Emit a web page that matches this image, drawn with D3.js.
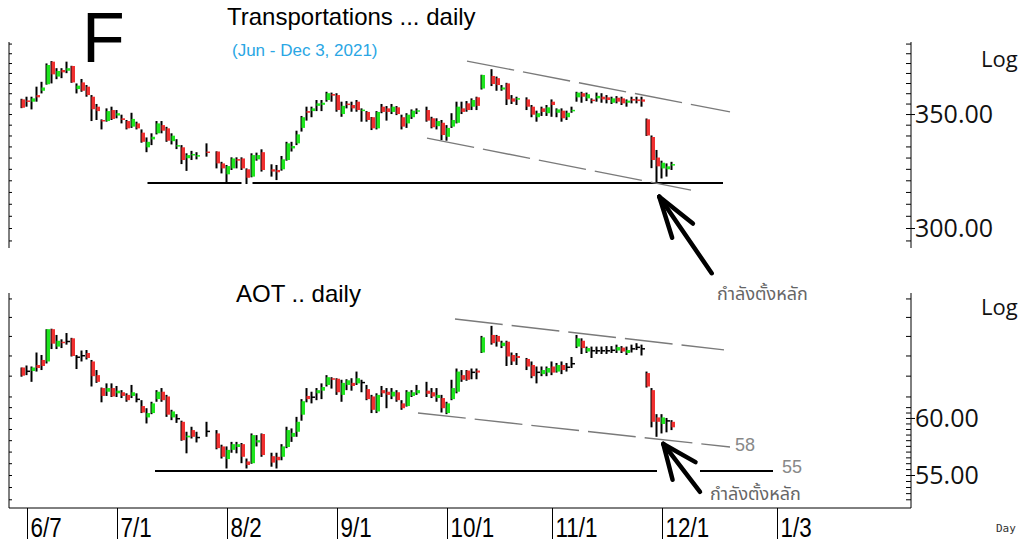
<!DOCTYPE html>
<html><head><meta charset="utf-8">
<script src="https://cdn.jsdelivr.net/npm/d3@7"></script>
<style>body{margin:0;background:#fff}svg{display:block}</style>
</head><body>
<svg id="chart" width="1024" height="542"></svg>
<script>
// ---------------- DATA ----------------
const startDate = "2021-06-04"; // first weekday slot; one entry per weekday, null = market holiday
// [open, high, low, close]
const transCandles = [
[357.0,357.3,352.8,353.0],[356.5,358.3,353.5,356.0],[355.9,358.3,352.2,357.5],[359.1,363.2,355.9,358.0],[361.2,365.6,359.9,362.8],
[364.4,374.8,364.2,374.0],[375.7,376.0,364.8,369.3],[368.2,372.4,366.9,371.0],[371.5,372.4,367.4,370.3],[371.1,375.7,369.9,372.4],
[373.5,373.6,365.1,365.3],[362.0,364.8,359.9,363.7],[365.3,367.0,360.7,361.2],[363.2,364.0,358.3,359.1],[358.3,359.1,346.7,352.3],
[353.5,354.8,347.2,351.4],[347.2,347.5,342.8,346.7],[346.7,352.7,346.4,351.4],[351.9,353.5,347.2,347.7],[349.3,351.9,348.0,350.4],
[348.0,349.7,345.6,347.2],[346.7,347.2,342.8,343.3],[344.1,350.6,343.5,347.7],[345.6,346.4,342.8,343.3],[341.3,342.8,336.7,337.1],
[334.6,339.1,332.4,337.1],[338.2,341.0,335.6,339.4],[341.0,346.7,340.5,345.6],[344.8,346.7,341.0,342.2],[343.3,344.0,337.1,337.6],
[337.4,341.0,335.9,339.9],[335.0,338.3,333.8,335.6],[334.6,335.6,327.1,328.9],[329.7,331.9,324.1,331.1],[331.1,333.0,328.9,331.6],
[330.4,332.4,329.2,331.1],null,[332.7,336.4,330.4,332.2],null,[332.7,332.8,325.2,327.4],
[327.4,328.1,323.0,325.2],[322.6,326.7,318.7,326.2],[325.2,330.1,324.5,329.6],[329.3,330.1,325.2,328.6],[329.6,330.1,324.5,325.2],
[324.8,325.2,318.4,321.1],[321.6,331.9,321.3,331.1],[329.2,332.2,328.6,331.1],[332.4,333.7,323.8,324.5],null,
[324.8,327.0,321.6,323.8],[324.5,326.7,320.1,323.5],[324.8,330.7,324.2,329.2],[328.9,337.1,328.6,336.4],[334.1,337.1,332.7,335.2],
[336.4,342.2,335.6,340.5],[343.5,349.1,341.8,348.5],[351.4,353.5,346.9,350.6],[351.4,353.5,348.5,352.7],[353.9,356.7,351.4,355.1],
[354.4,356.7,351.4,355.4],[356.7,360.7,355.9,360.0],[359.6,360.3,355.9,358.8],[359.1,360.0,351.1,351.9],[350.0,355.9,348.7,353.9],
[355.0,356.2,352.7,354.4],[354.3,355.9,351.1,352.7],[355.9,356.7,351.1,351.9],[351.4,352.7,346.4,352.1],[351.0,351.4,346.4,347.2],
[348.5,348.6,342.5,343.3],[343.3,351.4,342.8,351.0],[353.5,354.8,350.4,351.0],[352.7,353.8,346.9,351.0],[351.0,354.8,350.0,353.5],
[353.2,353.8,349.5,350.0],[348.5,349.7,342.8,344.1],[345.6,350.4,343.5,349.7],[348.5,352.2,347.7,351.6],[351.4,352.7,350.0,351.8],
null,[351.9,353.5,346.4,346.9],[348.0,348.7,343.3,343.8],[344.3,348.0,342.8,346.7],[345.9,347.2,337.9,340.2],
[339.4,344.8,337.6,343.5],[344.1,350.4,343.5,347.2],[345.9,355.9,345.6,353.5],[352.7,355.9,350.0,351.0],[355.1,356.2,351.1,351.9],
[353.5,357.5,351.9,356.7],[358.0,358.3,351.9,353.9],[362.3,369.1,361.8,369.0],null,[368.5,371.9,363.5,364.5],
[367.4,368.2,361.2,364.0],[361.8,364.0,361.2,362.8],[364.8,365.1,354.3,357.0],[357.5,359.1,354.8,355.9],[357.3,358.3,354.3,357.6],
null,[357.0,358.0,351.9,353.5],[353.5,354.3,348.5,349.7],[348.5,351.6,346.4,350.4],[352.7,353.5,349.1,351.0],
[350.4,354.3,349.1,353.2],[355.9,357.0,348.7,354.3],[350.6,352.7,348.5,352.2],[351.6,352.7,346.4,348.0],[348.5,351.6,347.2,350.6],
[351.6,353.5,350.6,352.0],[358.0,360.7,355.9,360.3],[360.0,360.7,355.4,358.3],[357.5,360.3,356.2,359.5],[356.9,357.5,355.1,356.6],
[357.5,360.3,355.9,358.7],[358.3,360.0,355.4,357.0],[358.0,359.1,355.1,356.7],[355.4,358.3,354.8,357.5],[357.8,358.6,355.1,355.9],
[357.5,358.3,354.3,355.1],[355.4,357.0,353.5,356.4],[357.2,358.3,355.1,356.4],[357.0,358.3,355.1,356.2],[357.0,358.3,353.5,355.9],
[347.5,347.9,339.8,340.0],[339.3,340.0,325.3,328.9],[330.0,333.4,319.2,326.1],[325.2,328.6,320.8,327.7],[324.8,327.4,321.6,326.1],
[326.5,328.1,324.5,327.1]
];
const aotCandles = [
[64.8,64.8,63.9,64.0],[64.5,65.0,64.05,64.5],[64.45,64.9,63.4,64.8],[65.05,66.3,64.4,64.75],[65.55,66.05,64.55,64.95],
[65.4,68.7,65.2,68.7],[68.7,68.75,66.65,67.2],[66.9,68.1,66.65,67.5],[67.4,67.65,66.75,67.25],[67.5,68.3,67.1,67.5],
[67.75,67.8,65.9,65.95],[65.9,66.05,64.65,65.9],[66.05,66.5,65.4,66.05],[66.25,66.55,65.6,65.75],[65.4,65.55,62.95,63.95],
[64.05,64.55,63.3,63.4],[62.8,62.85,61.45,62.05],[62.45,63.25,62.05,62.8],[62.8,63.25,61.95,62.0],[62.3,63.0,61.95,62.55],
[62.4,62.6,61.85,62.05],[62.15,62.3,61.5,61.65],[62.05,63.1,61.85,62.4],[61.8,62.3,61.45,61.8],[61.1,61.65,60.45,60.5],
[60.05,60.9,59.5,60.45],[60.45,61.5,60.35,61.35],[61.75,62.6,61.5,62.45],[62.45,62.8,61.5,61.65],[62.0,62.15,60.1,60.3],
[60.05,60.75,59.8,60.6],[60.0,60.35,59.55,60.0],[59.65,59.75,57.95,58.0],[58.25,58.75,56.85,58.4],[58.9,59.2,58.15,58.3],
[58.3,58.75,57.8,58.3],null,[58.85,59.65,58.3,58.85],null,[58.6,58.9,57.2,57.3],
[57.45,57.6,56.4,56.55],[56.35,57.45,55.55,57.15],[57.15,57.85,56.9,57.65],[57.4,57.85,56.85,57.65],[57.65,57.75,56.0,56.55],
[56.15,56.4,55.55,55.85],[56.0,58.6,55.95,58.45],[57.8,58.45,57.45,58.0],[58.55,58.6,56.55,56.7],null,
[56.6,56.9,55.7,56.05],[56.55,56.9,55.55,56.25],[56.55,57.65,56.25,57.45],[57.4,59.2,57.3,58.9],[58.3,59.05,57.85,58.65],
[58.75,60.1,58.3,59.65],[60.3,61.75,59.75,61.55],[62.05,62.8,61.45,61.75],[62.0,62.45,61.35,62.0],[62.3,62.8,61.65,62.6],
[62.55,63.25,61.75,62.9],[63.1,64.05,62.95,63.85],[63.75,63.85,62.75,63.6],[63.7,63.75,62.15,62.4],[62.15,63.6,61.5,63.3],
[63.1,63.65,62.6,63.55],[63.3,63.75,62.55,63.0],[63.25,64.4,63.1,63.75],[63.4,63.6,62.4,63.4],[62.7,63.1,61.65,61.75],
[62.0,62.15,60.45,60.75],[60.6,62.3,60.45,62.15],[62.6,63.0,61.95,62.3],[62.45,62.8,60.9,62.15],[62.0,62.8,61.75,62.45],
[62.4,62.6,61.5,61.65],[61.35,61.65,60.75,60.9],[61.1,62.6,61.05,62.45],[62.05,62.6,61.95,62.4],[62.3,63.1,62.15,62.6],
null,[62.55,63.4,61.95,62.25],[62.4,62.8,61.85,62.0],[61.85,62.8,61.5,62.15],[61.85,62.15,60.5,60.9],
[60.45,61.5,60.35,61.35],[61.75,63.6,61.65,62.8],[62.45,64.7,62.3,64.4],[64.05,64.55,63.4,63.6],[64.5,64.55,63.5,63.6],
[64.4,64.7,63.65,64.4],[64.5,64.7,63.65,64.3],[66.3,68.0,66.25,67.85],null,[68.1,69.05,67.1,67.25],
[68.0,68.1,66.9,67.4],[66.95,67.5,66.75,67.3],[67.4,67.5,64.95,65.9],[66.05,66.3,65.05,65.4],[65.95,66.25,65.05,65.75],
null,[65.65,65.75,64.55,64.9],[65.05,65.4,63.75,63.95],[64.4,64.9,63.25,64.4],[64.15,64.9,63.95,64.55],
[64.3,64.9,63.95,64.75],[64.9,65.4,64.05,64.3],[64.4,65.25,64.3,65.05],[65.05,65.4,64.15,64.55],[64.9,65.25,64.4,64.9],
[65.25,65.85,64.75,65.25],[66.9,68.1,66.75,67.75],[67.5,67.75,66.15,66.75],[66.4,66.9,66.25,66.75],[66.55,66.9,65.75,66.55],
[66.55,66.9,66.15,66.55],[66.55,66.9,66.15,66.55],[66.55,66.95,66.15,66.55],[66.6,66.95,66.25,66.6],[66.5,67.1,66.25,66.85],
[66.8,66.95,66.25,66.4],[66.25,66.9,66.05,66.55],[66.75,67.1,66.3,66.75],[66.9,67.25,66.55,66.9],[66.75,67.1,66.0,66.75],
[64.25,64.4,62.85,62.95],[62.6,62.8,59.15,59.65],[60.05,60.35,58.3,59.65],[59.45,60.35,58.6,60.05],[59.8,60.0,58.7,59.8],
[59.65,59.8,58.9,59.15]
];
const dateTicks = ["2021-06-07","2021-07-01","2021-08-02","2021-09-01","2021-10-01","2021-11-01","2021-12-01","2022-01-03"];
const dateTickLabels = ["6/7","7/1","8/2","9/1","10/1","11/1","12/1","1/3"];
const transLabelTicks = [300, 350];
const transMinorTicks = d3.range(295, 386, 5);
const aotLabelTicks = [55, 60];
const aotMinorTicks = [53,54,55,56,57,58,59,60,61,62,64,66,68,70,72];
const aotHalfTicks = [53.5,54.5,55.5,56.5,57.5,58.5,59.5,60.5];
// hand-drawn annotations, in [weekday index, value]
const transSupport = {value: 318.8, spans: [[25.1, 43.9], [46.1, 140.2]]};
const transChannels = [[[89, 376.0], [141.6, 351.0]], [[81, 338.8], [133.8, 315.8]]];
const transArrow = {tip: [127.46, 312.97], tail: [137.94, 282.2]};
const aotSupport = {value: 55.34, spans: [[26.6, 127.0], [135.6, 150.2]]};
const aotChannels = [[[86.6, 69.78], [140.4, 66.57]], [[79.2, 60.46], [141.6, 57.40]]];
const aotArrow = {tip: [128.26, 57.67], tail: [135.6, 53.61]};
const noteText = "กำลังตั้งหลัก";

// ---------------- CHART ----------------
const svg = d3.select("#chart");
const parse = d3.utcParse("%Y-%m-%d");
const t0 = parse(startDate);
const wdIndex = s => d3.utcDay.range(t0, parse(s)).filter(d => d.getUTCDay() % 6 !== 0).length;

const x = d3.scaleLinear().domain([0, 130]).range([22, 672]);
const yTop = d3.scaleLog().domain([292.0, 385.3]).range([248, 43]);
const yBot = d3.scaleLog().domain([52.3, 72.6]).range([508, 293]);

const RED = "#f03030", GREEN = "#1fe61f";
const sans = "'Liberation Sans',Arial,sans-serif";
const numFont = "'Open Sans','Noto Sans',sans-serif";
const thaiFont = "'Noto Sans Thai','Noto Sans Thai UI','Loma','Garuda','Tahoma','Noto Sans',sans-serif";

function drawAnnotations(g, y, support, channels) {
  support.spans.forEach(s => {
    g.append("line").attr("x1", x(s[0])).attr("x2", x(s[1]))
      .attr("y1", y(support.value)).attr("y2", y(support.value))
      .attr("stroke", "#000").attr("stroke-width", 2);
  });
  channels.forEach(c => {
    g.append("line").attr("x1", x(c[0][0])).attr("y1", y(c[0][1]))
      .attr("x2", x(c[1][0])).attr("y2", y(c[1][1]))
      .attr("stroke", "#7a7a7a").attr("stroke-width", 1.4)
      .attr("stroke-dasharray", "48,9");
  });
}

function drawArrow(g, y, arrow, ang, len) {
  const tx = x(arrow.tip[0]), ty = y(arrow.tip[1]);
  const px = x(arrow.tail[0]), py = y(arrow.tail[1]);
  const a = Math.atan2(py - ty, px - tx);
  g.append("line").attr("x1", px).attr("y1", py).attr("x2", tx).attr("y2", ty)
    .attr("stroke", "#000").attr("stroke-width", 4.5).attr("stroke-linecap", "round");
  [ang, -ang].forEach(d => {
    const b = a + d * Math.PI / 180;
    g.append("line").attr("x1", tx).attr("y1", ty)
      .attr("x2", tx + len * Math.cos(b)).attr("y2", ty + len * Math.sin(b))
      .attr("stroke", "#000").attr("stroke-width", 4.5).attr("stroke-linecap", "round");
  });
}

function drawCandles(g, data, y) {
  const items = data.map((d, i) => d ? {i, o: d[0], h: d[1], l: d[2], c: d[3]} : null).filter(Boolean);
  g.selectAll("rect.wick").data(items).join("rect").attr("class", "wick")
    .attr("x", d => x(d.i) - 1.5).attr("width", 2)
    .attr("y", d => y(d.h)).attr("height", d => Math.max(1, y(d.l) - y(d.h)))
    .attr("fill", "#000");
  g.selectAll("rect.body").data(items).join("rect").attr("class", "body")
    .attr("x", d => x(d.i) - 0.5).attr("width", 3.5)
    .attr("y", d => Math.min(y(d.o), y(d.c)))
    .attr("height", d => Math.max(1.5, Math.abs(y(d.o) - y(d.c))))
    .attr("fill", d => d.c > d.o ? GREEN : d.c < d.o ? RED : "#000");
}

function drawAxes(y, minor, labels, top, bottom, half) {
  const left = svg.append("g").attr("transform", "translate(9,0)")
    .call(d3.axisRight(y).tickValues(minor).tickSize(3).tickSizeOuter(0).tickFormat(""));
  const right = svg.append("g").attr("transform", "translate(911,0)")
    .call(d3.axisLeft(y).tickValues(minor.concat(half || [])).tickSize(5).tickSizeOuter(0).tickFormat(""));
  const lab = svg.append("g").attr("transform", "translate(911,0)")
    .call(d3.axisRight(y).tickValues(labels).tickSize(4).tickPadding(0).tickSizeOuter(0).tickFormat(d3.format(".2f")));
  lab.select(".domain").remove();
  lab.selectAll("text").attr("font-family", numFont).attr("font-size", 25).attr("fill", "#111").attr("dy", "0.34em");
  [left, right].forEach(a => {
    a.select(".domain").attr("d", `M0,${top}V${bottom}`).attr("stroke", "#000");
    a.selectAll(".tick line").attr("stroke", "#000");
  });
}

// top panel
const gTop = svg.append("g");
drawAnnotations(gTop, yTop, transSupport, transChannels);
drawCandles(gTop.append("g"), transCandles, yTop);
drawArrow(svg, yTop, transArrow, 17, 43);
drawAxes(yTop, transMinorTicks, transLabelTicks, 42, 248);

// bottom panel
const gBot = svg.append("g");
drawAnnotations(gBot, yBot, aotSupport, aotChannels);
drawCandles(gBot.append("g"), aotCandles, yBot);
drawArrow(svg, yBot, aotArrow, 23, 37);
drawAxes(yBot, aotMinorTicks, aotLabelTicks, 293, 508, aotHalfTicks);
svg.append("line").attr("x1", 9).attr("x2", 911).attr("y1", 508).attr("y2", 508).attr("stroke", "#000");

// date axis
const xAxis = svg.append("g").attr("transform", "translate(0,508)")
  .call(d3.axisBottom(x).tickValues(dateTicks.map(wdIndex)).tickSize(31).tickSizeOuter(0)
    .tickFormat((d, i) => dateTickLabels[i]));
xAxis.select(".domain").remove();
xAxis.selectAll(".tick line").attr("stroke", "#000");
xAxis.selectAll(".tick text")
  .attr("text-anchor", "start").attr("y", 0).attr("dy", 0)
  .attr("transform", "translate(3,29) scale(0.8,1)")
  .attr("font-family", sans).attr("font-size", 28).attr("fill", "#000");

// texts
svg.append("text").attr("x", 82).attr("y", 62).attr("font-family", sans)
  .attr("font-size", 70).attr("fill", "#000").text("F");
svg.append("text").attr("x", 227).attr("y", 25).attr("font-family", sans)
  .attr("font-size", 24).attr("fill", "#000").text("Transportations ... daily");
svg.append("text").attr("x", 232).attr("y", 56).attr("font-family", sans)
  .attr("font-size", 17).attr("fill", "#2aa6e4").text("(Jun - Dec 3, 2021)");
svg.append("text").attr("x", 236).attr("y", 302).attr("font-family", sans)
  .attr("font-size", 24).attr("fill", "#000").text("AOT .. daily");
[[981, 67], [981, 315]].forEach(p => svg.append("text").attr("x", p[0]).attr("y", p[1])
  .attr("font-family", numFont).attr("font-size", 22).attr("fill", "#111").text("Log"));
svg.append("text").attr("x", 996).attr("y", 532).attr("font-family", "'DejaVu Sans Mono',monospace")
  .attr("font-size", 11).attr("fill", "#333").text("Day");
svg.append("text").attr("x", 717).attr("y", 300).attr("font-family", thaiFont)
  .attr("font-size", 18).attr("fill", "#666").text(noteText);
svg.append("text").attr("x", 710).attr("y", 500).attr("font-family", thaiFont)
  .attr("font-size", 18).attr("fill", "#666").text(noteText);
svg.append("text").attr("x", x(aotChannels[1][1][0]) + 5).attr("y", yBot(aotChannels[1][1][1]) + 4)
  .attr("font-family", sans).attr("font-size", 18).attr("fill", "#888").text("58");
svg.append("text").attr("x", x(aotSupport.spans[1][1]) + 9).attr("y", yBot(aotSupport.value) + 2)
  .attr("font-family", sans).attr("font-size", 18).attr("fill", "#888").text("55");
</script>
</body></html>
